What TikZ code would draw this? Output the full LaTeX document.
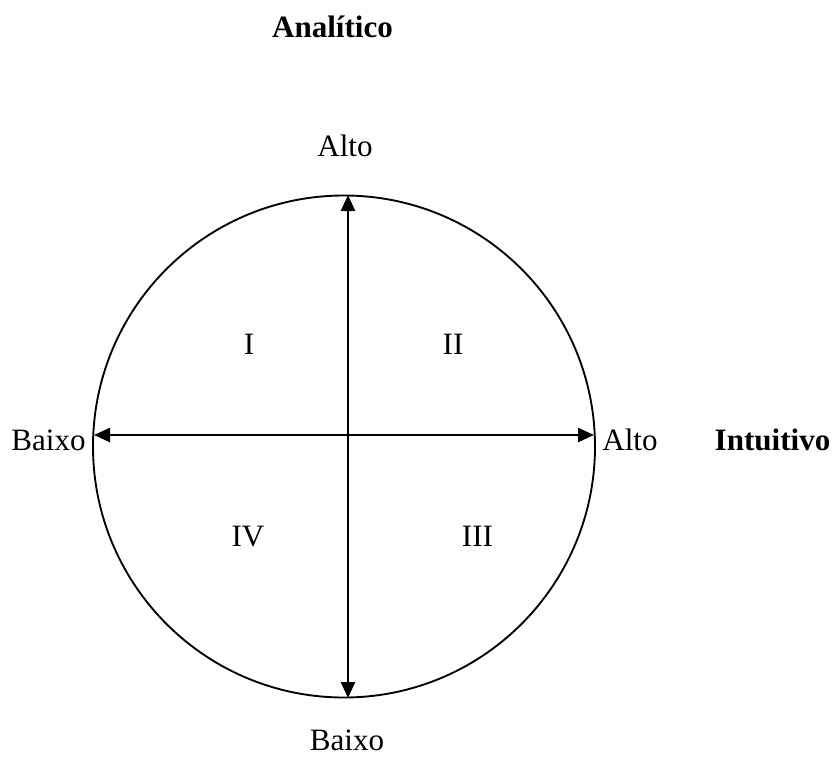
\documentclass[tikz,border=0pt]{standalone}
\usepackage{fontspec}
\setmainfont{Liberation Serif}
\usepackage{tikz}
\usetikzlibrary{arrows.meta}

\begin{document}
\begin{tikzpicture}[x=0.75pt,y=-0.75pt,
    lbl/.style={anchor=base,inner sep=0pt,font=\fontsize{23.3}{28}\selectfont},
    title/.style={lbl,font=\fontsize{23.3}{28}\selectfont\bfseries},
    ring/.style={draw,line width=1.4pt},
    axis/.style={{Triangle[length=12pt,width=10.5pt]}-{Triangle[length=12pt,width=10.5pt]},line width=1.9pt}
]
\useasboundingbox (0,0) rectangle (832,758);
\draw[ring] (344,446.5) circle [radius=251];
\coordinate (top) at (348,195);
\coordinate (bot) at (348,698);
\coordinate (lft) at (94,435);
\coordinate (rgt) at (594,435);
\draw[axis] (bot) -- (top);
\draw[axis] (lft) -- (rgt);
\node[title] (anal) at (332.5,37) {Analítico};
\node[title] (intu) at (772.5,450) {Intuitivo};
\node[lbl] (altoT) at (345,156) {Alto};
\node[lbl] (baixoB) at (347,750) {Baixo};
\node[lbl] (baixoL) at (48.5,450) {Baixo};
\node[lbl] (altoR) at (630,450) {Alto};
\node[lbl] (q1) at (249,354) {I};
\node[lbl] (q2) at (453,354) {II};
\node[lbl] (q3) at (477.5,546) {III};
\node[lbl] (q4) at (248,546) {IV};
\end{tikzpicture}
\end{document}
